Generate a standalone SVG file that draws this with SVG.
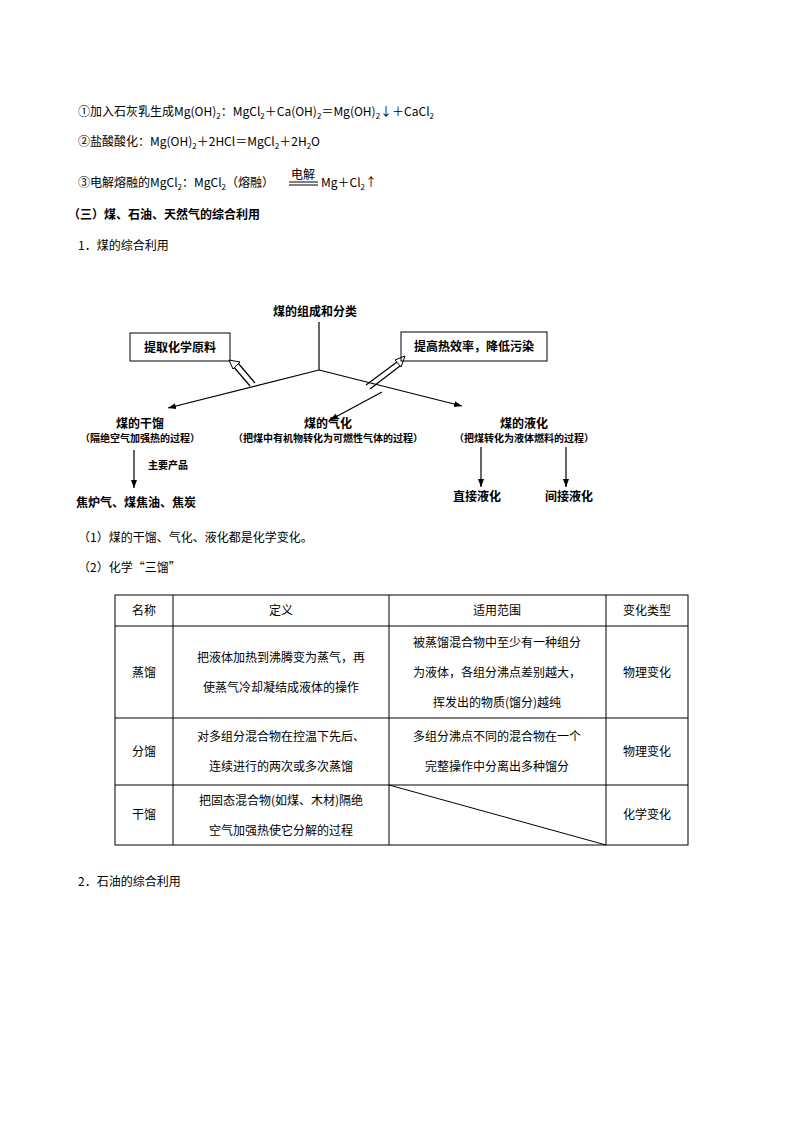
<svg xmlns="http://www.w3.org/2000/svg" width="794" height="1123" viewBox="0 0 794 1123">
<defs>
<style>
text{font-family:"Noto Sans CJK SC","Liberation Serif",serif;font-size:12px;fill:#000}
.b{font-weight:bold}
.s{font-size:10px;font-weight:bold}
.c{text-anchor:middle}
.m{font-family:"Liberation Mono","Noto Sans CJK SC",monospace;font-size:11px}
.ln{stroke:#000;stroke-width:1.2;fill:none}
.tb{stroke:#000;stroke-width:1;fill:none}
</style>
<marker id="ar" markerWidth="8" markerHeight="6" refX="8" refY="3" orient="auto" markerUnits="userSpaceOnUse"><path d="M0,0 L8,3 L0,6 Z" fill="#000"/></marker>
</defs>
<g id="equations">
<text x="78" y="116">①加入石灰乳生成Mg(OH)<tspan font-size="8" dy="3">2</tspan><tspan dy="-3">：MgCl</tspan><tspan font-size="8" dy="3">2</tspan><tspan dy="-3">＋Ca(OH)</tspan><tspan font-size="8" dy="3">2</tspan><tspan dy="-3">＝Mg(OH)</tspan><tspan font-size="8" dy="3">2</tspan><tspan dy="-3">↓＋CaCl</tspan><tspan font-size="8" dy="3">2</tspan></text>
<text x="78" y="146">②盐酸酸化：Mg(OH)<tspan font-size="8" dy="3">2</tspan><tspan dy="-3">＋2HCl＝MgCl</tspan><tspan font-size="8" dy="3">2</tspan><tspan dy="-3">＋2H</tspan><tspan font-size="8" dy="3">2</tspan><tspan dy="-3">O</tspan></text>
<text x="78" y="187">③电解熔融的MgCl<tspan font-size="8" dy="3">2</tspan><tspan dy="-3">：MgCl</tspan><tspan font-size="8" dy="3">2</tspan><tspan dy="-3">（熔融）</tspan></text>
<text x="303" y="179" class="c" font-size="13">电解</text>
<line x1="289" y1="182" x2="318" y2="182" class="tb"/><line x1="289" y1="185" x2="318" y2="185" class="tb"/>
<text x="321" y="187">Mg＋Cl<tspan font-size="8" dy="3">2</tspan><tspan dy="-3">↑</tspan></text>
<text x="68" y="219" class="b" font-size="13">（三）煤、石油、天然气的综合利用</text>
<text x="78" y="250" font-size="13">1．煤的综合利用</text>
</g>
<g id="connectors">
<line x1="319" y1="322" x2="319" y2="370" class="ln"/>
<line x1="319" y1="370" x2="168" y2="408" class="ln" marker-end="url(#ar)"/>
<line x1="319" y1="370" x2="462" y2="406" class="ln" marker-end="url(#ar)"/>
<line x1="250" y1="386" x2="233" y2="366" class="ln"/><line x1="255" y1="383" x2="238" y2="363" class="ln"/>
<path d="M229,360 L240,362 L233,369 Z" fill="#fff" stroke="#000"/>
<line x1="366" y1="385" x2="397" y2="362" class="ln"/><line x1="370" y1="389" x2="400" y2="366" class="ln"/>
<path d="M405,356 L395,360 L401,367 Z" fill="#fff" stroke="#000"/>
<line x1="382" y1="392" x2="330" y2="420" class="ln" marker-end="url(#ar)"/>
<line x1="134" y1="450" x2="134" y2="488" class="ln" marker-end="url(#ar)"/>
<line x1="481" y1="447" x2="481" y2="487" class="ln" marker-end="url(#ar)"/>
<line x1="566" y1="447" x2="566" y2="487" class="ln" marker-end="url(#ar)"/>
</g>
<g id="n-top"><text x="315" y="316" class="b c">煤的组成和分类</text></g>
<g id="n-raw"><rect x="130" y="333" width="100" height="28" class="tb" stroke-width="1.5"/><text x="180" y="352" class="b c">提取化学原料</text></g>
<g id="n-eff"><rect x="401" y="332" width="146" height="29" class="tb" stroke-width="1.5"/><text x="474" y="351" class="b c">提高热效率，降低污染</text></g>
<g id="n-dry"><text x="140" y="428" class="b c">煤的干馏</text><text x="140" y="442" class="s c">（隔绝空气加强热的过程）</text></g>
<g id="n-gas"><text x="328" y="428" class="b c">煤的气化</text><text x="328" y="442" class="s c">（把煤中有机物转化为可燃性气体的过程）</text></g>
<g id="n-liq"><text x="524" y="428" class="b c">煤的液化</text><text x="524" y="442" class="s c">（把煤转化为液体燃料的过程）</text></g>
<g id="n-label"><text x="148" y="469" class="s">主要产品</text></g>
<g id="n-prod"><text x="76" y="507" class="b">焦炉气、煤焦油、焦炭</text></g>
<g id="n-direct"><text x="477" y="501" class="b c">直接液化</text></g>
<g id="n-indirect"><text x="569" y="501" class="b c">间接液化</text></g>
<g id="notes">
<text x="78" y="542">（1）煤的干馏、气化、液化都是化学变化。</text>
<text x="78" y="572">（2）化学“三馏”</text>
</g>
<g id="table">
<rect x="115" y="595" width="573" height="250" class="tb"/>
<line x1="173" y1="595" x2="173" y2="845" class="tb"/>
<line x1="389" y1="595" x2="389" y2="845" class="tb"/>
<line x1="606" y1="595" x2="606" y2="845" class="tb"/>
<line x1="115" y1="626" x2="688" y2="626" class="tb"/>
<line x1="115" y1="718" x2="688" y2="718" class="tb"/>
<line x1="115" y1="785" x2="688" y2="785" class="tb"/>
<line x1="389" y1="785" x2="606" y2="845" class="tb"/>
<text x="144" y="615" class="c">名称</text><text x="281" y="615" class="c">定义</text><text x="497" y="615" class="c">适用范围</text><text x="647" y="615" class="c">变化类型</text>
<text x="144" y="677" class="c">蒸馏</text>
<text x="281" y="662" class="c">把液体加热到沸腾变为蒸气，再</text><text x="281" y="692" class="c">使蒸气冷却凝结成液体的操作</text>
<text x="497" y="647" class="c">被蒸馏混合物中至少有一种组分</text><text x="497" y="677" class="c">为液体，各组分沸点差别越大，</text><text x="497" y="707" class="c">挥发出的物质(馏分)越纯</text>
<text x="647" y="677" class="c">物理变化</text>
<text x="144" y="756" class="c">分馏</text>
<text x="281" y="741" class="c">对多组分混合物在控温下先后、</text><text x="281" y="771" class="c">连续进行的两次或多次蒸馏</text>
<text x="497" y="741" class="c">多组分沸点不同的混合物在一个</text><text x="497" y="771" class="c">完整操作中分离出多种馏分</text>
<text x="647" y="756" class="c">物理变化</text>
<text x="144" y="819" class="c">干馏</text>
<text x="281" y="805" class="c">把固态混合物(如煤、木材)隔绝</text><text x="281" y="835" class="c">空气加强热使它分解的过程</text>
<text x="647" y="819" class="c">化学变化</text>
</g>
<g id="footer"><text x="78" y="886" font-size="13">2．石油的综合利用</text></g>
</svg>
